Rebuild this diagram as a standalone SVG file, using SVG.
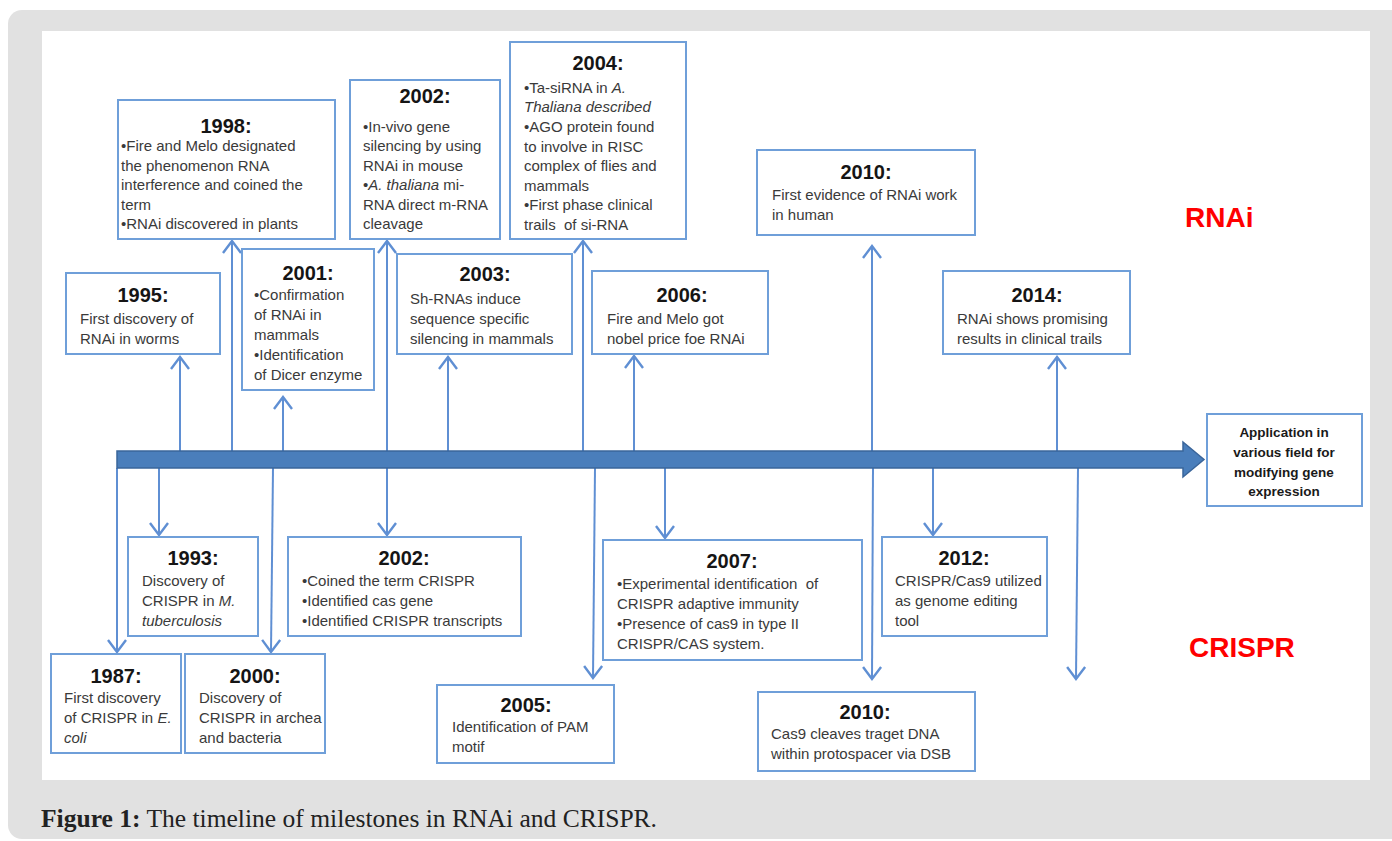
<svg xmlns="http://www.w3.org/2000/svg" width="1392" height="841" viewBox="0 0 1392 841">
<defs>
<style>
.box{fill:#fff;stroke:#6f9fd9;stroke-width:2}
.ttl{font-family:"Liberation Sans",Arial,sans-serif;font-weight:bold;font-size:20px;fill:#151515;text-anchor:middle}
.txt{font-family:"Liberation Sans",Arial,sans-serif;font-size:15px;fill:#3a3a3a}
.app{font-family:"Liberation Sans",Arial,sans-serif;font-weight:bold;font-size:13.5px;fill:#1a1a1a;text-anchor:middle}
.con{stroke:#5f8fd3;stroke-width:2;fill:none}
.lbl{font-family:"Liberation Sans",Arial,sans-serif;font-weight:bold;font-size:28px;fill:#ff0000}
</style>
<marker id="ah" markerUnits="userSpaceOnUse" markerWidth="24" markerHeight="24" viewBox="-12 -10 14 20" refX="0" refY="0" orient="auto">
<path d="M-10,-7.5 L0,0 L-10,7.5" fill="none" stroke="#5f8fd3" stroke-width="2"/>
</marker>
</defs>

<rect x="8" y="10" width="1400" height="829" rx="14" fill="#e1e1e1"/>
<rect x="42" y="31" width="1328" height="749" fill="#ffffff"/>

<g id="connectors">
<line class="con" x1="180" y1="451" x2="180" y2="357" marker-end="url(#ah)"/>
<line class="con" x1="232" y1="451" x2="232" y2="241" marker-end="url(#ah)"/>
<line class="con" x1="283" y1="451" x2="283" y2="397" marker-end="url(#ah)"/>
<line class="con" x1="387" y1="451" x2="387" y2="241" marker-end="url(#ah)"/>
<line class="con" x1="448" y1="451" x2="448" y2="357" marker-end="url(#ah)"/>
<line class="con" x1="583" y1="451" x2="583" y2="241" marker-end="url(#ah)"/>
<line class="con" x1="634" y1="451" x2="634" y2="356" marker-end="url(#ah)"/>
<line class="con" x1="872" y1="451" x2="872" y2="246" marker-end="url(#ah)"/>
<line class="con" x1="1057" y1="451" x2="1057" y2="357" marker-end="url(#ah)"/>

<line class="con" x1="117" y1="468" x2="117" y2="652" marker-end="url(#ah)"/>
<line class="con" x1="159" y1="468" x2="159" y2="535" marker-end="url(#ah)"/>
<line class="con" x1="273" y1="468" x2="271" y2="652" marker-end="url(#ah)"/>
<line class="con" x1="387" y1="468" x2="387" y2="535" marker-end="url(#ah)"/>
<line class="con" x1="595" y1="468" x2="593" y2="678" marker-end="url(#ah)"/>
<line class="con" x1="665" y1="468" x2="665" y2="538" marker-end="url(#ah)"/>
<line class="con" x1="873" y1="468" x2="872" y2="679" marker-end="url(#ah)"/>
<line class="con" x1="933" y1="468" x2="933" y2="535" marker-end="url(#ah)"/>
<line class="con" x1="1078" y1="468" x2="1076" y2="679" marker-end="url(#ah)"/>
</g>

<g id="timeline">
<path d="M117,451 H1183 V442 L1204,459.5 L1183,477 V468 H117 Z" fill="#4a7ebb" stroke="#3a659a" stroke-width="1.5"/>
</g>

<g id="n1998">
<rect class="box" x="118" y="100" width="217" height="139"/>
<text class="ttl" x="226" y="133">1998:</text>
<text class="txt" x="121" y="151">•Fire and Melo designated</text>
<text class="txt" x="121" y="171">the phenomenon RNA</text>
<text class="txt" x="121" y="190">interference and coined the</text>
<text class="txt" x="121" y="210">term</text>
<text class="txt" x="121" y="229">•RNAi discovered in plants</text>
</g>

<g id="n2002a">
<rect class="box" x="350" y="80" width="150" height="159"/>
<text class="ttl" x="425" y="103">2002:</text>
<text class="txt" x="363" y="132">•In-vivo gene</text>
<text class="txt" x="363" y="151">silencing by using</text>
<text class="txt" x="363" y="171">RNAi in mouse</text>
<text class="txt" x="363" y="190">•<tspan font-style="italic">A. thaliana</tspan> mi-</text>
<text class="txt" x="363" y="210">RNA direct m-RNA</text>
<text class="txt" x="363" y="229">cleavage</text>
</g>

<g id="n2004">
<rect class="box" x="510" y="42" width="176" height="197"/>
<text class="ttl" x="598" y="70">2004:</text>
<text class="txt" x="524" y="93">•Ta-siRNA in <tspan font-style="italic">A.</tspan></text>
<text class="txt" x="524" y="112" font-style="italic">Thaliana described</text>
<text class="txt" x="524" y="132">•AGO protein found</text>
<text class="txt" x="524" y="152">to involve in RISC</text>
<text class="txt" x="524" y="171">complex of flies and</text>
<text class="txt" x="524" y="191">mammals</text>
<text class="txt" x="524" y="210">•First phase clinical</text>
<text class="txt" x="524" y="230" xml:space="preserve">trails  of si-RNA</text>
</g>

<g id="n1995">
<rect class="box" x="66" y="273" width="154" height="81"/>
<text class="ttl" x="143" y="302">1995:</text>
<text class="txt" x="80" y="324">First discovery of</text>
<text class="txt" x="80" y="344">RNAi in worms</text>
</g>

<g id="n2001">
<rect class="box" x="242" y="249" width="132" height="141"/>
<text class="ttl" x="308" y="280">2001:</text>
<text class="txt" x="254" y="300">•Confirmation</text>
<text class="txt" x="254" y="320">of RNAi in</text>
<text class="txt" x="254" y="340">mammals</text>
<text class="txt" x="254" y="360">•Identification</text>
<text class="txt" x="254" y="380">of Dicer enzyme</text>
</g>

<g id="n2003">
<rect class="box" x="397" y="254" width="175" height="100"/>
<text class="ttl" x="485" y="281">2003:</text>
<text class="txt" x="410" y="304">Sh-RNAs induce</text>
<text class="txt" x="410" y="324">sequence specific</text>
<text class="txt" x="410" y="344">silencing in mammals</text>
</g>

<g id="n2006">
<rect class="box" x="592" y="271" width="176" height="83"/>
<text class="ttl" x="682" y="302">2006:</text>
<text class="txt" x="607" y="324">Fire and Melo got</text>
<text class="txt" x="607" y="344">nobel price foe RNAi</text>
</g>

<g id="n2010a">
<rect class="box" x="757" y="150" width="218" height="85"/>
<text class="ttl" x="866" y="179">2010:</text>
<text class="txt" x="772" y="200">First evidence of RNAi work</text>
<text class="txt" x="772" y="220">in human</text>
</g>

<g id="n2014">
<rect class="box" x="943" y="271" width="187" height="83"/>
<text class="ttl" x="1037" y="302">2014:</text>
<text class="txt" x="957" y="324">RNAi shows promising</text>
<text class="txt" x="957" y="344">results in clinical trails</text>
</g>

<g id="napp">
<rect class="box" x="1207" y="414" width="155" height="92"/>
<text class="app" x="1284" y="437">Application in</text>
<text class="app" x="1284" y="457">various field for</text>
<text class="app" x="1284" y="477">modifying gene</text>
<text class="app" x="1284" y="496">expression</text>
</g>

<g id="n1993">
<rect class="box" x="128" y="537" width="130" height="99"/>
<text class="ttl" x="193" y="565">1993:</text>
<text class="txt" x="142" y="586">Discovery of</text>
<text class="txt" x="142" y="606">CRISPR in <tspan font-style="italic">M.</tspan></text>
<text class="txt" x="142" y="626" font-style="italic">tuberculosis</text>
</g>

<g id="n2002b">
<rect class="box" x="288" y="537" width="233" height="99"/>
<text class="ttl" x="404" y="565">2002:</text>
<text class="txt" x="302" y="586">•Coined the term CRISPR</text>
<text class="txt" x="302" y="606">•Identified cas gene</text>
<text class="txt" x="302" y="626">•Identified CRISPR transcripts</text>
</g>

<g id="n1987">
<rect class="box" x="51" y="654" width="130" height="99"/>
<text class="ttl" x="116" y="683">1987:</text>
<text class="txt" x="64" y="703">First discovery</text>
<text class="txt" x="64" y="723">of CRISPR in <tspan font-style="italic">E.</tspan></text>
<text class="txt" x="64" y="743" font-style="italic">coli</text>
</g>

<g id="n2000">
<rect class="box" x="185" y="654" width="140" height="99"/>
<text class="ttl" x="255" y="683">2000:</text>
<text class="txt" x="199" y="703">Discovery of</text>
<text class="txt" x="199" y="723">CRISPR in archea</text>
<text class="txt" x="199" y="743">and bacteria</text>
</g>

<g id="n2005">
<rect class="box" x="437" y="685" width="177" height="78"/>
<text class="ttl" x="526" y="712">2005:</text>
<text class="txt" x="452" y="732">Identification of PAM</text>
<text class="txt" x="452" y="752">motif</text>
</g>

<g id="n2007">
<rect class="box" x="603" y="540" width="259" height="120"/>
<text class="ttl" x="732" y="568">2007:</text>
<text class="txt" x="617" y="589" xml:space="preserve">•Experimental identification  of</text>
<text class="txt" x="617" y="609">CRISPR adaptive immunity</text>
<text class="txt" x="617" y="629">•Presence of cas9 in type II</text>
<text class="txt" x="617" y="649">CRISPR/CAS system.</text>
</g>

<g id="n2010b">
<rect class="box" x="758" y="692" width="217" height="79"/>
<text class="ttl" x="865" y="719">2010:</text>
<text class="txt" x="771" y="739">Cas9 cleaves traget DNA</text>
<text class="txt" x="771" y="759">within protospacer via DSB</text>
</g>

<g id="n2012">
<rect class="box" x="882" y="537" width="165" height="99"/>
<text class="ttl" x="964" y="565">2012:</text>
<text class="txt" x="895" y="586">CRISPR/Cas9 utilized</text>
<text class="txt" x="895" y="606">as genome editing</text>
<text class="txt" x="895" y="626">tool</text>
</g>

<g id="labels">
<text class="lbl" x="1185" y="227">RNAi</text>
<text class="lbl" x="1189" y="657">CRISPR</text>
</g>

<g id="caption">
<text x="41" y="827" font-family="'Liberation Serif','Times New Roman',serif" font-size="25" fill="#222" textLength="616" lengthAdjust="spacingAndGlyphs"><tspan font-weight="bold">Figure 1:</tspan> The timeline of milestones in RNAi and CRISPR.</text>
</g>
</svg>
